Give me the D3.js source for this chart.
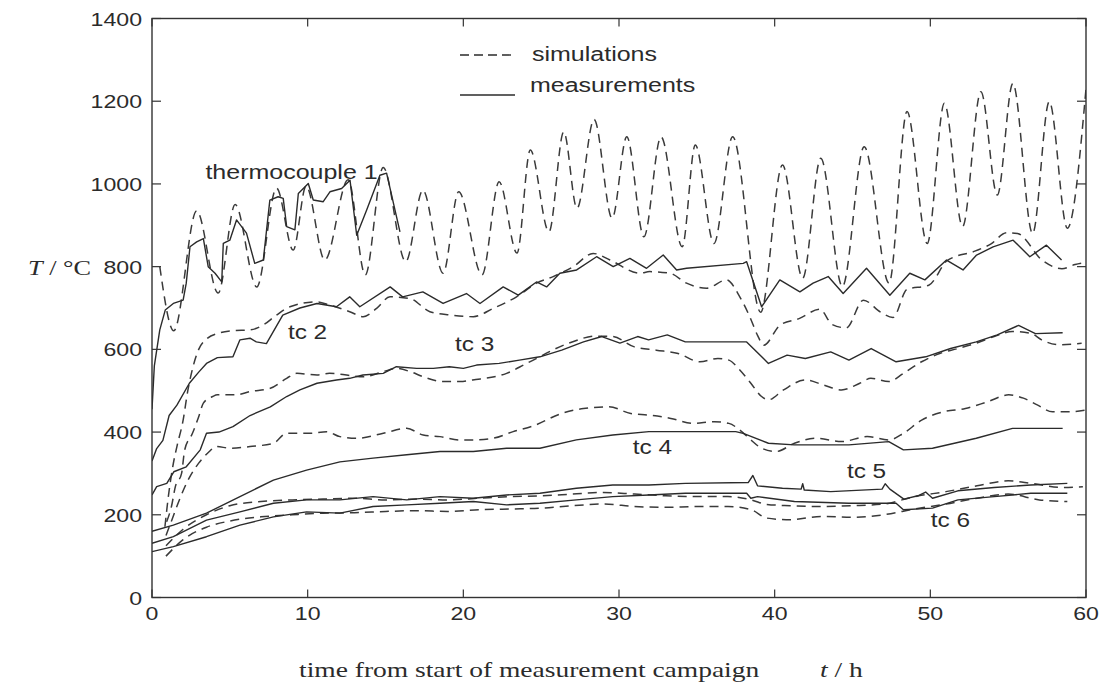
<!DOCTYPE html>
<html>
<head>
<meta charset="utf-8">
<script src="https://cdn.jsdelivr.net/npm/d3@7"></script>
<style>
  body { margin: 0; background: #fff; }
  svg { display: block; }
</style>
</head>
<body>
<svg id="chart" width="1107" height="684"></svg>
<script>
// Axis ticks
const xTicks = [0, 10, 20, 30, 40, 50, 60];
const yTicks = [0, 200, 400, 600, 800, 1000, 1200, 1400];

// Series: [time in h, temperature in °C]
const tc1Measured = [[0,455],[0.15,560],[0.5,647],[0.85,695],[1.37,711],[2.0,719],[2.2,760],[2.44,848],[2.87,860],[3.3,868],[3.61,800],[4.05,784],[4.48,763],[4.58,856],[5.0,864],[5.43,913],[6.07,881],[6.6,808],[7.15,816],[7.57,961],[8.1,969],[8.43,965],[8.65,897],[9.18,889],[9.4,977],[10.04,1001],[10.36,961],[11.0,957],[11.43,981],[12.18,989],[12.72,1009],[13.15,876],[13.79,937],[14.64,1021],[15.07,1026],[15.93,884]];
const tc1Simulated = [[0.5,800],[1.4,645],[2.87,935],[4.25,736],[5.34,950],[6.73,751],[8.0,990],[9.07,840],[9.9,995],[11.1,816],[12.6,1010],[13.7,780],[14.85,1040],[16.3,812],[17.4,985],[18.7,784],[19.7,981],[21.2,780],[22.3,1005],[23.45,833],[24.3,1082],[25.5,884],[26.45,1126],[27.3,941],[28.4,1156],[29.56,917],[30.5,1114],[31.6,872],[32.7,1114],[34.06,848],[34.9,1094],[36.1,856],[37.3,1114],[39.1,690],[40.5,1046],[41.8,772],[42.96,1062],[44.35,752],[45.75,1090],[47.35,760],[48.5,1175],[49.8,856],[50.9,1195],[52.07,897],[53.25,1223],[54.3,973],[55.3,1243],[56.57,880],[57.64,1199],[58.8,893],[60,1230]];

const tc2Measured = [[0,330],[0.3,360],[0.7,380],[1.1,440],[1.6,465],[2.4,518],[3.0,545],[3.5,566],[4.2,580],[5.2,582],[5.65,623],[6.3,627],[6.7,618],[7.35,614],[8.4,683],[9.5,700],[10.6,711],[11.85,703],[12.7,727],[13.35,703],[15.3,751],[16.1,727],[17.4,739],[18.7,711],[20.2,735],[21.07,711],[22.56,751],[23.53,731],[24.7,763],[25.35,751],[26.2,784],[27.28,792],[28.56,824],[29.63,800],[30.7,820],[31.77,796],[32.84,828],[33.7,792],[34.34,796],[37.98,808],[38.2,812],[39.16,703],[40.33,768],[41.62,739],[42.47,760],[43.44,776],[44.4,735],[45.9,796],[47.4,731],[48.68,784],[49.65,768],[51.04,816],[52.1,792],[52.97,828],[54.03,848],[55.32,864],[56.39,824],[57.46,852],[58.43,816]];
const tc2Simulated = [[0.83,171],[1.05,244],[1.37,324],[1.6,365],[2.0,429],[2.3,500],[2.65,560],[3.0,600],[3.5,625],[4.37,640],[5.2,645],[6.3,647],[7.15,659],[8.0,683],[8.86,703],[10.58,715],[11.43,707],[12.7,691],[13.57,679],[14.43,699],[15.29,727],[16.57,723],[17.85,691],[19.14,683],[20.64,679],[21.92,699],[23.42,727],[24.7,760],[25.77,776],[27.06,800],[28.34,832],[29.42,816],[31.34,784],[31.98,788],[33.27,784],[34.34,760],[35.63,748],[36.9,768],[37.76,727],[38.4,679],[38.9,634],[39.3,610],[40.33,658],[41.6,675],[42.9,697],[43.7,660],[44.6,652],[45.7,719],[46.8,690],[47.6,677],[48.5,745],[49.9,755],[51.1,815],[52.9,838],[53.9,855],[54.9,882],[55.6,880],[57.2,815],[58.45,795],[59.3,805],[60,810]];

const tc3Measured = [[0,248],[0.3,268],[0.95,276],[1.4,304],[2.2,316],[3.1,357],[3.5,397],[4.3,400],[5.2,413],[6.3,440],[7.6,461],[8.65,486],[9.5,502],[10.6,518],[11.85,526],[12.7,530],[13.55,538],[14.85,542],[15.7,558],[17.0,554],[18.07,554],[19.1,558],[20.0,554],[20.85,562],[22.3,566],[23.6,574],[24.92,582],[26.32,598],[27.72,618],[28.9,631],[30.06,615],[31.2,631],[31.9,623],[33.1,635],[34.26,618],[38.2,618],[39.6,566],[40.8,586],[41.97,578],[43.6,594],[44.77,574],[46.2,602],[47.8,570],[49.7,582],[51.3,602],[52.95,618],[54.3,635],[55.67,658],[56.75,638],[58.5,640]];
const tc3Simulated = [[0.94,183],[1.25,220],[1.5,268],[1.9,300],[2.1,357],[2.6,397],[3.0,437],[3.3,470],[3.9,486],[4.2,490],[5.4,490],[6.3,498],[7.6,506],[8.65,530],[9.3,542],[10.6,538],[11.4,542],[13.6,534],[14.85,546],[15.7,554],[16.6,546],[17.4,534],[18.7,522],[19.8,522],[20.6,526],[22.78,542],[24.07,566],[26.78,615],[28.5,632],[29.59,631],[30.99,606],[32.4,598],[33.8,590],[35.2,570],[36.35,578],[37.06,574],[37.76,550],[38.47,518],[39.16,486],[39.6,478],[40.57,502],[41.97,526],[43.13,514],[44.3,502],[45.47,518],[46.18,530],[47.33,522],[48.27,542],[49.44,570],[50.6,590],[51.77,602],[52.95,615],[54.1,631],[55.28,643],[56.45,639],[57.15,623],[58.32,611],[59.72,615]];

const tc4Measured = [[0,160],[1.37,175],[3.5,204],[5.65,244],[7.8,284],[9.93,308],[12.07,328],[14.2,337],[16.36,345],[18.5,353],[20.64,353],[22.78,361],[24.92,361],[27.26,381],[29.6,393],[31.92,401],[34.26,401],[37.5,401],[37.98,397],[39.6,373],[41.27,369],[44.77,369],[47.33,377],[48.27,357],[50.14,361],[52.95,385],[55.28,409],[58.5,409]];
const tc4Simulated = [[0.9,150],[1.3,190],[1.8,240],[2.4,290],[3.0,325],[3.6,350],[4.16,365],[5.0,361],[6.3,365],[7.8,373],[8.65,397],[10.15,397],[11.22,401],[12.07,389],[13.15,385],[14.86,397],[16.36,409],[17.42,393],[18.5,389],[19.78,381],[20.64,381],[21.92,385],[23.2,401],[24.49,415],[26.32,445],[27.72,457],[29.35,461],[30.76,445],[31.92,441],[33.33,433],[34.73,421],[36.13,425],[37.06,421],[37.76,405],[38.47,381],[39.16,361],[40.1,353],[41.27,373],[42.67,385],[44.3,377],[45.94,389],[47.33,381],[48.27,397],[49.44,429],[50.84,449],[52.25,457],[53.65,473],[55.04,490],[55.98,482],[56.9,465],[57.85,449],[59.02,449],[59.95,453]];

const tc5Measured = [[0,131],[1.37,147],[3.5,187],[5.65,207],[7.8,228],[9.93,236],[12.07,236],[14.2,244],[16.36,236],[18.5,244],[20.64,240],[22.78,248],[24.92,252],[27.26,264],[29.6,272],[31.92,272],[34.26,276],[38.3,278],[38.6,295],[38.9,270],[40.5,264],[41.7,262],[41.8,275],[41.9,260],[43.6,256],[46.9,262],[47.1,275],[47.4,262],[48.3,238],[49.2,246],[49.7,255],[50.14,240],[51.77,258],[54.1,266],[56.45,272],[58.8,276]];
const tc5Simulated = [[0.9,125],[2,165],[3.5,200],[5,222],[7,232],[9,236],[11,238],[13,240],[15,236],[17,238],[19,236],[21,240],[23,244],[25,246],[27,250],[29,254],[31,250],[33,246],[35,244],[37,244],[38.5,236],[39.5,225],[41,222],[43,220],[45,222],[47,226],[49,244],[51,256],[53,270],[55,282],[56.5,276],[58.5,266],[59.8,268]];

const tc6Measured = [[0,111],[1.37,123],[3.5,147],[5.65,175],[7.8,195],[9.93,207],[12.07,204],[14.2,220],[16.36,224],[18.5,228],[20.64,232],[22.78,224],[24.92,228],[27.26,236],[29.6,244],[31.92,248],[34.26,252],[38.2,252],[38.47,240],[38.9,244],[41.27,232],[44.77,228],[47.8,228],[48.27,212],[50.14,216],[51.77,236],[54.1,244],[56.45,252],[58.8,252]];
const tc6Simulated = [[0.9,100],[2,140],[3.5,170],[5,185],[7,195],[9,200],[11,204],[13,205],[15,208],[17,210],[19,208],[21,212],[23,214],[25,216],[27,222],[29,226],[31,220],[33,218],[35,220],[37,220],[38.5,212],[39.5,192],[41,188],[43,196],[45,194],[47,200],[49,214],[51,226],[53,240],[55,250],[57,236],[58.8,232]];

// Curve labels: [text, time, temperature] anchor at the label's left baseline
const curveLabels = [
  ["thermocouple 1", 3.43, 1012],
  ["tc 2", 8.73, 626],
  ["tc 3", 19.46, 597],
  ["tc 4", 30.88, 346],
  ["tc 5", 44.64, 290],
  ["tc 6", 50.03, 170]
];

const legendItems = [["simulations", true], ["measurements", false]];

const plot = { left: 152, right: 1086, top: 18.5, bottom: 597.5 };
const SX = 1.25; // horizontal stretch of the lettering
const INK = "#2b2b2b";

const svg = d3.select("#chart");
const x = d3.scaleLinear().domain([0, 60]).range([plot.left, plot.right]);
const y = d3.scaleLinear().domain([0, 1400]).range([plot.bottom, plot.top]);

const sans = "'Liberation Sans', Arial, Helvetica, sans-serif";
const serif = "'Liberation Serif', 'Times New Roman', serif";

function stretchedText(parent, px, py, anchor, size, family) {
  return parent.append("text")
    .attr("transform", `translate(${px},${py}) scale(${SX},1)`)
    .attr("text-anchor", anchor)
    .attr("font-family", family)
    .attr("font-size", size)
    .attr("fill", INK);
}

// Data lines
const simLine = d3.line().x(d => x(d[0])).y(d => y(d[1])).curve(d3.curveMonotoneX);
const measLine = d3.line().x(d => x(d[0])).y(d => y(d[1]));

const series = [
  [tc1Simulated, true], [tc2Simulated, true], [tc3Simulated, true],
  [tc4Simulated, true], [tc5Simulated, true], [tc6Simulated, true],
  [tc1Measured, false], [tc2Measured, false], [tc3Measured, false],
  [tc4Measured, false], [tc5Measured, false], [tc6Measured, false]
];

svg.append("clipPath").attr("id", "plotClip")
  .append("rect")
  .attr("x", plot.left).attr("y", plot.top)
  .attr("width", plot.right - plot.left).attr("height", plot.bottom - plot.top);

const lines = svg.append("g").attr("clip-path", "url(#plotClip)");
series.forEach(([data, dashed]) => {
  lines.append("path")
    .attr("d", dashed ? simLine(data) : measLine(data))
    .attr("fill", "none")
    .attr("stroke", dashed ? "#3a3a3a" : INK)
    .attr("stroke-width", dashed ? 1.5 : 1.4)
    .attr("stroke-linejoin", "round")
    .attr("stroke-dasharray", dashed ? "9,6" : null);
});

// Frame with inward ticks on all four sides
const axes = svg.append("g");
axes.append("rect")
  .attr("x", plot.left).attr("y", plot.top)
  .attr("width", plot.right - plot.left).attr("height", plot.bottom - plot.top)
  .attr("fill", "none").attr("stroke", "#333").attr("stroke-width", 1.4);

const tickLen = 8;
xTicks.forEach(t => {
  axes.append("line").attr("x1", x(t)).attr("x2", x(t))
    .attr("y1", plot.bottom).attr("y2", plot.bottom - tickLen)
    .attr("stroke", "#333").attr("stroke-width", 1.2);
  axes.append("line").attr("x1", x(t)).attr("x2", x(t))
    .attr("y1", plot.top).attr("y2", plot.top + tickLen)
    .attr("stroke", "#333").attr("stroke-width", 1.2);
  stretchedText(axes, x(t), plot.bottom + 22, "middle", 18.5, sans).text(t);
});
yTicks.forEach(v => {
  axes.append("line").attr("x1", plot.left).attr("x2", plot.left + tickLen + 1)
    .attr("y1", y(v)).attr("y2", y(v))
    .attr("stroke", "#333").attr("stroke-width", 1.2);
  axes.append("line").attr("x1", plot.right).attr("x2", plot.right - tickLen - 1)
    .attr("y1", y(v)).attr("y2", y(v))
    .attr("stroke", "#333").attr("stroke-width", 1.2);
  stretchedText(axes, plot.left - 10, y(v) + 7, "end", 18.5, sans).text(v);
});

// Axis titles
const yTitle = stretchedText(svg, 28, 275, "start", 21, serif);
yTitle.append("tspan").attr("font-style", "italic").text("T");
yTitle.append("tspan").text(" / °C");

stretchedText(svg, 299, 677, "start", 22, serif)
  .text("time from start of measurement campaign");
const xTitle = stretchedText(svg, 820, 677, "start", 22, serif);
xTitle.append("tspan").attr("font-style", "italic").text("t");
xTitle.append("tspan").text(" / h");

// Legend
const legend = svg.append("g");
legendItems.forEach(([label, dashed], i) => {
  const ly = i === 0 ? 55 : 95;
  legend.append("line")
    .attr("x1", 460).attr("x2", 515).attr("y1", ly).attr("y2", ly)
    .attr("stroke", INK).attr("stroke-width", 1.4)
    .attr("stroke-dasharray", dashed ? "9,5" : null);
  stretchedText(legend, i === 0 ? 532 : 530, i === 0 ? 61 : 91.5, "start", 20, sans).text(label);
});

// Curve labels
curveLabels.forEach(([label, t, v]) => {
  stretchedText(svg, x(t), y(v), "start", label.length > 5 ? 20 : 19.5, sans).text(label);
});
</script>
</body>
</html>
